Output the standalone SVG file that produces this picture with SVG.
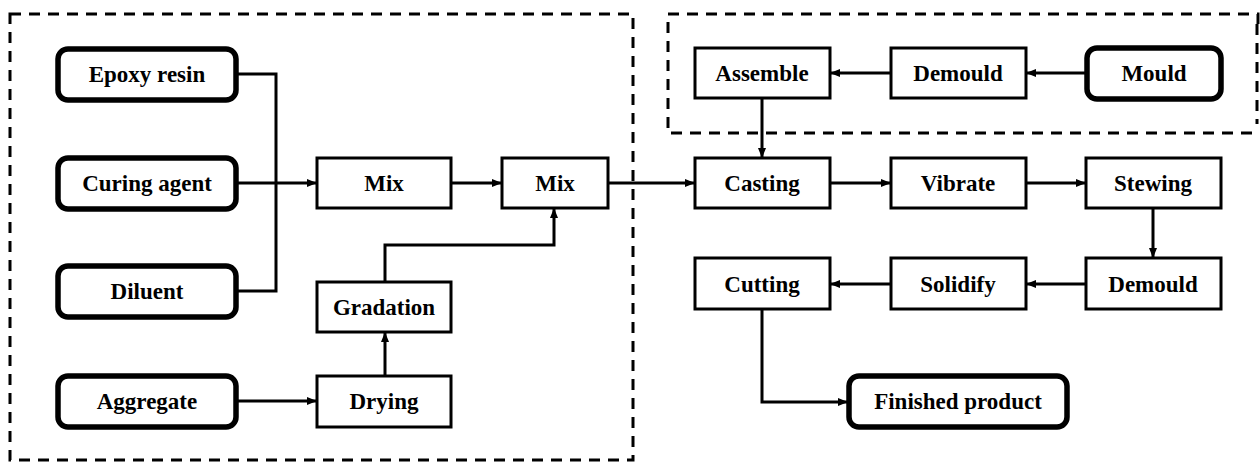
<svg xmlns="http://www.w3.org/2000/svg" width="1260" height="462" viewBox="0 0 1260 462">
  <style>
    .bg { fill: #ffffff; }
    .group { fill: none; stroke: #000; stroke-width: 3; stroke-dasharray: 11 8; }
    .step { fill: #fff; stroke: #000; stroke-width: 3; }
    .source { fill: #fff; stroke: #000; stroke-width: 5.5; }
    .label { font-family: "Liberation Serif", "Times New Roman", serif; font-weight: bold; font-size: 23px; text-anchor: middle; fill: #000; }
    .wire { fill: none; stroke: #000; stroke-width: 3; }
    .flow { fill: none; stroke: #000; stroke-width: 3; marker-end: url(#arrow); }
  </style>
  <defs>
    <marker id="arrow" viewBox="0 0 10 8" refX="10" refY="4" markerWidth="10" markerHeight="8" markerUnits="userSpaceOnUse" orient="auto">
      <path d="M0,0 L10,4 L0,8 Z" fill="#000"/>
    </marker>
  </defs>

  <rect class="bg" x="0" y="0" width="1260" height="462"/>

  <!-- stage frames -->
  <g id="frames">
    <rect class="group" x="10" y="14" width="623" height="446"/>
    <polyline class="group" points="1258,24 1258,14 668,14 668,133 1258,133"/>
    <line class="group" x1="1257" y1="24" x2="1257" y2="124" stroke-dasharray="10 7"/>
  </g>

  <!-- connectors -->
  <g id="connectors">
    <polyline class="wire" points="236,74 276,74 276,291 236,291"/>
    <line class="flow" x1="236" y1="183" x2="317" y2="183"/>
    <line class="flow" x1="451" y1="183" x2="502" y2="183"/>
    <line class="flow" x1="236" y1="401" x2="317" y2="401"/>
    <line class="flow" x1="385" y1="376" x2="385" y2="332"/>
    <polyline class="flow" points="385,282 385,245 554,245 554,208"/>
    <line class="flow" x1="608" y1="183" x2="695" y2="183"/>
    <line class="flow" x1="1086" y1="73" x2="1026" y2="73"/>
    <line class="flow" x1="891" y1="73" x2="830" y2="73"/>
    <line class="flow" x1="762" y1="98" x2="762" y2="158"/>
    <line class="flow" x1="830" y1="183" x2="891" y2="183"/>
    <line class="flow" x1="1026" y1="183" x2="1086" y2="183"/>
    <line class="flow" x1="1153" y1="208" x2="1153" y2="258"/>
    <line class="flow" x1="1086" y1="284" x2="1026" y2="284"/>
    <line class="flow" x1="891" y1="284" x2="830" y2="284"/>
    <polyline class="flow" points="762,309 762,402 848,402"/>
  </g>

  <!-- raw materials -->
  <g id="epoxy-resin">
    <rect class="source" x="58" y="49" width="178" height="51" rx="10"/>
    <text class="label" x="147" y="82">Epoxy resin</text>
  </g>
  <g id="curing-agent">
    <rect class="source" x="58" y="158" width="178" height="51" rx="10"/>
    <text class="label" x="147" y="191">Curing agent</text>
  </g>
  <g id="diluent">
    <rect class="source" x="58" y="266" width="178" height="51" rx="10"/>
    <text class="label" x="147" y="299">Diluent</text>
  </g>
  <g id="aggregate">
    <rect class="source" x="58" y="376" width="178" height="51" rx="10"/>
    <text class="label" x="147" y="409">Aggregate</text>
  </g>

  <!-- material preparation -->
  <g id="mix-1">
    <rect class="step" x="317" y="158" width="134" height="50"/>
    <text class="label" x="384" y="191">Mix</text>
  </g>
  <g id="mix-2">
    <rect class="step" x="502" y="158" width="106" height="50"/>
    <text class="label" x="555" y="191">Mix</text>
  </g>
  <g id="gradation">
    <rect class="step" x="317" y="282" width="134" height="50"/>
    <text class="label" x="384" y="315">Gradation</text>
  </g>
  <g id="drying">
    <rect class="step" x="317" y="376" width="134" height="51"/>
    <text class="label" x="384" y="409">Drying</text>
  </g>

  <!-- mould preparation -->
  <g id="assemble">
    <rect class="step" x="695" y="48" width="135" height="50"/>
    <text class="label" x="762" y="81">Assemble</text>
  </g>
  <g id="demould-mould">
    <rect class="step" x="891" y="48" width="135" height="50"/>
    <text class="label" x="958" y="81">Demould</text>
  </g>
  <g id="mould">
    <rect class="source" x="1087" y="48" width="134" height="51" rx="10"/>
    <text class="label" x="1154" y="81">Mould</text>
  </g>

  <!-- moulding -->
  <g id="casting">
    <rect class="step" x="695" y="158" width="135" height="50"/>
    <text class="label" x="762" y="191">Casting</text>
  </g>
  <g id="vibrate">
    <rect class="step" x="891" y="158" width="135" height="50"/>
    <text class="label" x="958" y="191">Vibrate</text>
  </g>
  <g id="stewing">
    <rect class="step" x="1086" y="158" width="135" height="50"/>
    <text class="label" x="1153" y="191">Stewing</text>
  </g>
  <g id="demould">
    <rect class="step" x="1086" y="258" width="135" height="51"/>
    <text class="label" x="1153" y="292">Demould</text>
  </g>
  <g id="solidify">
    <rect class="step" x="891" y="258" width="135" height="51"/>
    <text class="label" x="958" y="292">Solidify</text>
  </g>
  <g id="cutting">
    <rect class="step" x="695" y="258" width="135" height="51"/>
    <text class="label" x="762" y="292">Cutting</text>
  </g>
  <g id="finished-product">
    <rect class="source" x="849" y="376" width="218" height="51" rx="10"/>
    <text class="label" x="958" y="409">Finished product</text>
  </g>
</svg>
